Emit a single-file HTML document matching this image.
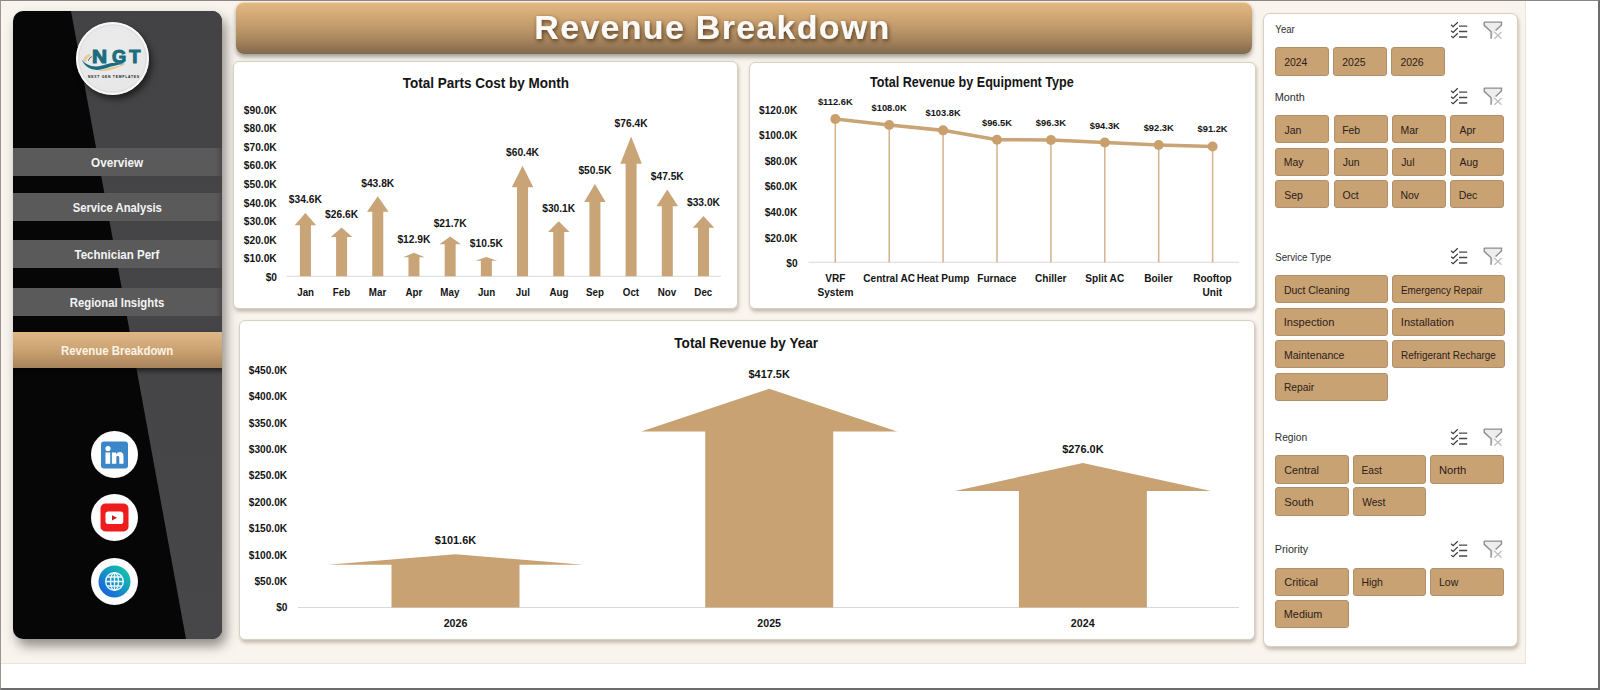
<!DOCTYPE html>
<html><head><meta charset="utf-8"><style>
*{margin:0;padding:0;box-sizing:border-box}
html,body{width:1600px;height:690px;overflow:hidden;background:#fff;font-family:"Liberation Sans", sans-serif}
#frame{position:absolute;left:0;top:0;width:1600px;height:690px;border-top:1px solid #8c8782;border-left:1px solid #9a958f;border-right:2px solid #6c6c6c;border-bottom:2px solid #6c6c6c}
#cream{position:absolute;left:1px;top:1px;width:1525px;height:663px;background:#f9f4ed;border-right:1px solid #ebe4da;border-bottom:1px solid #ebe4da}
#side{position:absolute;left:13px;top:11px;width:208.5px;height:627.5px;border-radius:10px;background:#060607;overflow:hidden;box-shadow:4px 7px 12px rgba(50,48,44,.52)}
#sidegray{position:absolute;left:0;top:0;width:100%;height:100%;background:linear-gradient(#434345,#474749);clip-path:polygon(58px 0,209px 0,209px 628px,173px 628px)}
.nav{position:absolute;left:0;width:208.5px;background:linear-gradient(90deg,#5a5a5b 97%,#4a4a4b)}
#navact{position:absolute;left:0;top:320.5px;width:208.5px;height:36.8px;background:linear-gradient(#dfb887,#cba272 50%,#a8845b);box-shadow:2px 3px 5px rgba(0,0,0,.55)}
#logo{position:absolute;left:63px;top:10.5px;width:73px;height:73px;border-radius:50%;background:radial-gradient(circle at 45% 40%,#ececec,#e7e7e7 70%,#dedede);box-shadow:3px 4px 6px rgba(0,0,0,.55)}
.soc{position:absolute;left:78px;width:47px;height:47px;border-radius:50%;background:#fdfdfd}
#header{position:absolute;left:235.8px;top:1.8px;width:1016.2px;height:52.2px;border-radius:8px;background:linear-gradient(#e2b782,#d4aa76 22%,#bf986a 50%,#a4825b 75%,#8c7052 92%,#7f6a4f);box-shadow:0 3px 4px rgba(70,75,60,.5);border-top:1px solid #efd5b2}
.panel{position:absolute;background:#fff;border:1px solid #d9d0c2;border-radius:6px;box-shadow:1px 2.5px 3.5px rgba(110,95,75,.35)}
.ic{position:absolute}
.btn{position:absolute;background:#c9a273;border:1px solid #b0906a;border-radius:3px}
svg.ov{position:absolute;left:0;top:0}
</style></head><body>
<div id="cream"></div>
<div id="side">
 <div id="sidegray"></div>
 <div id="logo">
  <svg width="73" height="73" viewBox="0 0 73 73" style="position:absolute;left:0;top:0">
   <circle cx="36.5" cy="36.5" r="35.4" fill="none" stroke="#f8f8f8" stroke-width="1.8"/><circle cx="36.5" cy="36.5" r="33.6" fill="none" stroke="#d4d4d4" stroke-width=".8" opacity=".8"/>
   <path d="M21.9 48.8 C27 48 31 46.5 35 45.5 C40 44.3 45 43.3 49.1 43 C45 44.2 40 46.3 35 47.7 C30 49 26 49.2 21.9 48.8 Z" fill="#e3c48f"/>
   <path d="M7.2 39.8 C7.2 36 9.5 33 14 31.8 L14.6 34 C11.5 35 10.1 37 10.1 39.8 Z" fill="#e6c994"/>
   <path d="M12.4 38.8 Q12.9 35.8 15.9 34.6" fill="none" stroke="#4f6d76" stroke-width="1"/>
   <path d="M5.6 37.5 C9 42 14 44.6 20.5 44.4 C27 44.2 31 41.5 36 41 C41 40.6 46 41.3 49.8 41.9 C45 42.2 40 43 35 44.6 C30 46.3 25 48.2 20.5 47.9 C13 47.6 8 43 5.6 37.5 Z" fill="#1b6b7d"/>
   <text x="16.09" y="40.7" font-size="18.5" font-weight="bold" fill="#1b6d7f" stroke="#1b6d7f" stroke-width="1.1" textLength="15.06" lengthAdjust="spacingAndGlyphs" font-family="Liberation Sans">N</text>
   <text x="35.92" y="40.7" font-size="18.5" font-weight="bold" fill="#1b6d7f" stroke="#1b6d7f" stroke-width="1.1" textLength="14.17" lengthAdjust="spacingAndGlyphs" font-family="Liberation Sans">G</text>
   <text x="53.17" y="40.7" font-size="18.5" font-weight="bold" fill="#1b6d7f" stroke="#1b6d7f" stroke-width="1.1" textLength="11.18" lengthAdjust="spacingAndGlyphs" font-family="Liberation Sans">T</text>
   <text x="12" y="55.9" font-size="3.4" font-weight="bold" fill="#1a1a1a" textLength="51" lengthAdjust="spacing" font-family="Liberation Sans">NEXT GEN TEMPLATES</text>
  </svg>
 </div>
 <div class="nav" style="top:137px;height:27.8px"></div>
 <div class="nav" style="top:182.1px;height:27.5px"></div>
 <div class="nav" style="top:229.4px;height:27.9px"></div>
 <div class="nav" style="top:277.2px;height:27.4px"></div>
 <div id="navact"></div>
 <div class="soc" style="top:420px">
  <svg width="47" height="47" viewBox="0 0 47 47"><rect x="10" y="10.5" width="27" height="27" rx="3" fill="#3b87c7"/>
   <circle cx="17" cy="17.5" r="2.6" fill="#fff"/><rect x="14.5" y="21.5" width="4.7" height="11.3" fill="#fff"/>
   <path d="M20.9 21.5 H25.1 V23.2 Q26.5 21 29.1 21.1 Q32.5 21.3 32.5 25.6 V32.8 H28.3 V26.6 Q28.3 24.7 26.7 24.7 Q25.3 24.8 25.3 26.6 V32.8 H20.9 Z" fill="#fff"/></svg>
 </div>
 <div class="soc" style="top:483px">
  <svg width="47" height="47" viewBox="0 0 47 47"><rect x="9.5" y="9.5" width="28" height="28" rx="5" fill="#ee1c1c"/>
   <rect x="14.5" y="17.4" width="17.8" height="12.6" rx="2.8" fill="#fff"/><path d="M21 21.2 L26 23.8 L21 26.4 Z" fill="#d01818"/></svg>
 </div>
 <div class="soc" style="top:547px">
  <svg width="47" height="47" viewBox="0 0 47 47"><defs><linearGradient id="gg" x1="1" y1="0" x2="0" y2="1"><stop offset="0" stop-color="#12d2a2"/><stop offset="1" stop-color="#1a52e8"/></linearGradient></defs>
   <circle cx="23.5" cy="23.5" r="16" fill="url(#gg)"/>
   <g fill="none" stroke="#eaf6ff" stroke-width="1.4"><circle cx="23.5" cy="23.5" r="8.8"/><ellipse cx="23.5" cy="23.5" rx="4" ry="8.8"/><path d="M23.5 14.7 V32.3 M14.7 23.5 H32.3 M16 19 H31 M16 28 H31"/></g></svg>
 </div>
</div>
<div id="header"></div>
<div class="panel" style="left:233.3px;top:61px;width:504.5px;height:247.6px"></div>
<div class="panel" style="left:748.5px;top:62px;width:507.2px;height:246.6px"></div>
<div class="panel" style="left:238.8px;top:320.2px;width:1015.8px;height:319.4px"></div>
<div class="panel" style="left:1263px;top:12.8px;width:254.5px;height:634.4px;border-radius:7px"></div>
<svg class="ov" width="1600" height="690" viewBox="0 0 1600 690" font-family="Liberation Sans">
<defs><filter id="ts" x="-5%" y="-30%" width="110%" height="160%"><feGaussianBlur in="SourceAlpha" stdDeviation="2.2"/><feOffset dx="1.3" dy="1.6" result="b"/><feFlood flood-color="#3a2410" flood-opacity=".8"/><feComposite in2="b" operator="in"/><feMerge><feMergeNode/><feMergeNode in="SourceGraphic"/></feMerge></filter></defs>
<text x="711.84" y="39.40" font-size="34" font-weight="bold" text-anchor="middle" fill="#fcfaf6" textLength="354.97" lengthAdjust="spacing" filter="url(#ts)">Revenue Breakdown</text>
<text x="117.10" y="167.00" font-size="12.5" font-weight="bold" text-anchor="middle" fill="#f4f4f4" textLength="52.14" lengthAdjust="spacingAndGlyphs">Overview</text>
<text x="117.27" y="212.00" font-size="12.5" font-weight="bold" text-anchor="middle" fill="#f4f4f4" textLength="89.22" lengthAdjust="spacingAndGlyphs">Service Analysis</text>
<text x="116.93" y="259.40" font-size="12.5" font-weight="bold" text-anchor="middle" fill="#f4f4f4" textLength="84.89" lengthAdjust="spacingAndGlyphs">Technician Perf</text>
<text x="117.00" y="307.30" font-size="12.5" font-weight="bold" text-anchor="middle" fill="#f4f4f4" textLength="94.48" lengthAdjust="spacingAndGlyphs">Regional Insights</text>
<text x="117.13" y="354.50" font-size="12.5" font-weight="bold" text-anchor="middle" fill="#fbf3e6" textLength="112.14" lengthAdjust="spacingAndGlyphs">Revenue Breakdown</text>
<text x="485.84" y="87.50" font-size="14" font-weight="bold" text-anchor="middle" fill="#141414" textLength="166.25" lengthAdjust="spacingAndGlyphs">Total Parts Cost by Month</text>
<text x="276.70" y="113.90" font-size="10.5" font-weight="bold" text-anchor="end" fill="#141414" textLength="32.84" lengthAdjust="spacingAndGlyphs">$90.0K</text>
<text x="276.70" y="132.42" font-size="10.5" font-weight="bold" text-anchor="end" fill="#141414" textLength="32.84" lengthAdjust="spacingAndGlyphs">$80.0K</text>
<text x="276.70" y="150.94" font-size="10.5" font-weight="bold" text-anchor="end" fill="#141414" textLength="32.84" lengthAdjust="spacingAndGlyphs">$70.0K</text>
<text x="276.70" y="169.46" font-size="10.5" font-weight="bold" text-anchor="end" fill="#141414" textLength="32.84" lengthAdjust="spacingAndGlyphs">$60.0K</text>
<text x="276.70" y="187.98" font-size="10.5" font-weight="bold" text-anchor="end" fill="#141414" textLength="32.84" lengthAdjust="spacingAndGlyphs">$50.0K</text>
<text x="276.70" y="206.50" font-size="10.5" font-weight="bold" text-anchor="end" fill="#141414" textLength="32.84" lengthAdjust="spacingAndGlyphs">$40.0K</text>
<text x="276.70" y="225.02" font-size="10.5" font-weight="bold" text-anchor="end" fill="#141414" textLength="32.84" lengthAdjust="spacingAndGlyphs">$30.0K</text>
<text x="276.70" y="243.54" font-size="10.5" font-weight="bold" text-anchor="end" fill="#141414" textLength="32.84" lengthAdjust="spacingAndGlyphs">$20.0K</text>
<text x="276.70" y="262.06" font-size="10.5" font-weight="bold" text-anchor="end" fill="#141414" textLength="32.84" lengthAdjust="spacingAndGlyphs">$10.0K</text>
<text x="277.03" y="280.58" font-size="10.5" font-weight="bold" text-anchor="end" fill="#141414" textLength="11.33" lengthAdjust="spacingAndGlyphs">$0</text>
<rect x="286.5" y="275.8" width="434.5" height="1" fill="#d9d9d9"/>
<polygon points="305.40,212.98 316.15,225.33 310.90,225.33 310.90,276.30 299.90,276.30 299.90,225.33 294.65,225.33" fill="#c9a477"/>
<text x="305.37" y="203.38" font-size="10.5" font-weight="bold" text-anchor="middle" fill="#141414" textLength="33.01" lengthAdjust="spacingAndGlyphs">$34.6K</text>
<text x="305.64" y="295.80" font-size="10.5" font-weight="bold" text-anchor="middle" fill="#141414" textLength="16.83" lengthAdjust="spacingAndGlyphs">Jan</text>
<polygon points="341.59,227.62 352.34,237.11 347.09,237.11 347.09,276.30 336.09,276.30 336.09,237.11 330.84,237.11" fill="#c9a477"/>
<text x="341.56" y="218.02" font-size="10.5" font-weight="bold" text-anchor="middle" fill="#141414" textLength="33.01" lengthAdjust="spacingAndGlyphs">$26.6K</text>
<text x="341.48" y="295.80" font-size="10.5" font-weight="bold" text-anchor="middle" fill="#141414" textLength="17.36" lengthAdjust="spacingAndGlyphs">Feb</text>
<polygon points="377.78,196.15 388.53,211.78 383.28,211.78 383.28,276.30 372.28,276.30 372.28,211.78 367.03,211.78" fill="#c9a477"/>
<text x="377.75" y="186.55" font-size="10.5" font-weight="bold" text-anchor="middle" fill="#141414" textLength="33.01" lengthAdjust="spacingAndGlyphs">$43.8K</text>
<text x="377.53" y="295.80" font-size="10.5" font-weight="bold" text-anchor="middle" fill="#141414" textLength="17.37" lengthAdjust="spacingAndGlyphs">Mar</text>
<polygon points="413.97,252.69 424.72,257.30 419.47,257.30 419.47,276.30 408.47,276.30 408.47,257.30 403.22,257.30" fill="#c9a477"/>
<text x="413.94" y="243.09" font-size="10.5" font-weight="bold" text-anchor="middle" fill="#141414" textLength="33.01" lengthAdjust="spacingAndGlyphs">$12.9K</text>
<text x="413.91" y="295.80" font-size="10.5" font-weight="bold" text-anchor="middle" fill="#141414" textLength="16.82" lengthAdjust="spacingAndGlyphs">Apr</text>
<polygon points="450.16,236.59 460.91,244.33 455.66,244.33 455.66,276.30 444.66,276.30 444.66,244.33 439.41,244.33" fill="#c9a477"/>
<text x="450.13" y="226.99" font-size="10.5" font-weight="bold" text-anchor="middle" fill="#141414" textLength="33.01" lengthAdjust="spacingAndGlyphs">$21.7K</text>
<text x="449.87" y="295.80" font-size="10.5" font-weight="bold" text-anchor="middle" fill="#141414" textLength="19.00" lengthAdjust="spacingAndGlyphs">May</text>
<polygon points="486.35,257.09 497.10,260.83 491.85,260.83 491.85,276.30 480.85,276.30 480.85,260.83 475.60,260.83" fill="#c9a477"/>
<text x="486.32" y="247.49" font-size="10.5" font-weight="bold" text-anchor="middle" fill="#141414" textLength="33.01" lengthAdjust="spacingAndGlyphs">$10.5K</text>
<text x="486.58" y="295.80" font-size="10.5" font-weight="bold" text-anchor="middle" fill="#141414" textLength="17.36" lengthAdjust="spacingAndGlyphs">Jun</text>
<polygon points="522.54,165.77 533.29,187.32 528.04,187.32 528.04,276.30 517.04,276.30 517.04,187.32 511.79,187.32" fill="#c9a477"/>
<text x="522.51" y="156.17" font-size="10.5" font-weight="bold" text-anchor="middle" fill="#141414" textLength="33.01" lengthAdjust="spacingAndGlyphs">$60.4K</text>
<text x="522.81" y="295.80" font-size="10.5" font-weight="bold" text-anchor="middle" fill="#141414" textLength="14.11" lengthAdjust="spacingAndGlyphs">Jul</text>
<polygon points="558.73,221.22 569.48,231.96 564.23,231.96 564.23,276.30 553.23,276.30 553.23,231.96 547.98,231.96" fill="#c9a477"/>
<text x="558.70" y="211.62" font-size="10.5" font-weight="bold" text-anchor="middle" fill="#141414" textLength="33.01" lengthAdjust="spacingAndGlyphs">$30.1K</text>
<text x="558.92" y="295.80" font-size="10.5" font-weight="bold" text-anchor="middle" fill="#141414" textLength="18.98" lengthAdjust="spacingAndGlyphs">Aug</text>
<polygon points="594.92,183.88 605.67,201.91 600.42,201.91 600.42,276.30 589.42,276.30 589.42,201.91 584.17,201.91" fill="#c9a477"/>
<text x="594.89" y="174.28" font-size="10.5" font-weight="bold" text-anchor="middle" fill="#141414" textLength="33.01" lengthAdjust="spacingAndGlyphs">$50.5K</text>
<text x="594.96" y="295.80" font-size="10.5" font-weight="bold" text-anchor="middle" fill="#141414" textLength="17.91" lengthAdjust="spacingAndGlyphs">Sep</text>
<polygon points="631.11,136.49 641.86,163.75 636.61,163.75 636.61,276.30 625.61,276.30 625.61,163.75 620.36,163.75" fill="#c9a477"/>
<text x="631.08" y="126.89" font-size="10.5" font-weight="bold" text-anchor="middle" fill="#141414" textLength="33.01" lengthAdjust="spacingAndGlyphs">$76.4K</text>
<text x="630.97" y="295.80" font-size="10.5" font-weight="bold" text-anchor="middle" fill="#141414" textLength="16.28" lengthAdjust="spacingAndGlyphs">Oct</text>
<polygon points="667.30,189.38 678.05,206.33 672.80,206.33 672.80,276.30 661.80,276.30 661.80,206.33 656.55,206.33" fill="#c9a477"/>
<text x="667.27" y="179.78" font-size="10.5" font-weight="bold" text-anchor="middle" fill="#141414" textLength="33.01" lengthAdjust="spacingAndGlyphs">$47.5K</text>
<text x="667.00" y="295.80" font-size="10.5" font-weight="bold" text-anchor="middle" fill="#141414" textLength="18.45" lengthAdjust="spacingAndGlyphs">Nov</text>
<polygon points="703.49,215.91 714.24,227.69 708.99,227.69 708.99,276.30 697.99,276.30 697.99,227.69 692.74,227.69" fill="#c9a477"/>
<text x="703.46" y="206.31" font-size="10.5" font-weight="bold" text-anchor="middle" fill="#141414" textLength="33.01" lengthAdjust="spacingAndGlyphs">$33.0K</text>
<text x="703.32" y="295.80" font-size="10.5" font-weight="bold" text-anchor="middle" fill="#141414" textLength="17.91" lengthAdjust="spacingAndGlyphs">Dec</text>
<text x="971.88" y="87.00" font-size="14" font-weight="bold" text-anchor="middle" fill="#141414" textLength="203.60" lengthAdjust="spacingAndGlyphs">Total Revenue by Equipment Type</text>
<text x="797.31" y="113.60" font-size="10.5" font-weight="bold" text-anchor="end" fill="#141414" textLength="38.31" lengthAdjust="spacingAndGlyphs">$120.0K</text>
<text x="797.31" y="139.20" font-size="10.5" font-weight="bold" text-anchor="end" fill="#141414" textLength="38.31" lengthAdjust="spacingAndGlyphs">$100.0K</text>
<text x="797.30" y="164.80" font-size="10.5" font-weight="bold" text-anchor="end" fill="#141414" textLength="32.67" lengthAdjust="spacingAndGlyphs">$80.0K</text>
<text x="797.30" y="190.40" font-size="10.5" font-weight="bold" text-anchor="end" fill="#141414" textLength="32.67" lengthAdjust="spacingAndGlyphs">$60.0K</text>
<text x="797.30" y="216.00" font-size="10.5" font-weight="bold" text-anchor="end" fill="#141414" textLength="32.67" lengthAdjust="spacingAndGlyphs">$40.0K</text>
<text x="797.30" y="241.60" font-size="10.5" font-weight="bold" text-anchor="end" fill="#141414" textLength="32.67" lengthAdjust="spacingAndGlyphs">$20.0K</text>
<text x="797.63" y="267.20" font-size="10.5" font-weight="bold" text-anchor="end" fill="#141414" textLength="11.27" lengthAdjust="spacingAndGlyphs">$0</text>
<rect x="808.5" y="261.8" width="430.5" height="1" fill="#d9d9d9"/>
<rect x="834.55" y="119.07" width="1.5" height="143.23" fill="#d2b38c"/>
<text x="835.28" y="105.07" font-size="9.5" font-weight="bold" text-anchor="middle" fill="#141414" textLength="34.69" lengthAdjust="spacingAndGlyphs">$112.6K</text>
<text x="835.45" y="281.60" font-size="10.5" font-weight="bold" text-anchor="middle" fill="#141414" textLength="20.16" lengthAdjust="spacingAndGlyphs">VRF</text>
<text x="835.44" y="295.70" font-size="10.5" font-weight="bold" text-anchor="middle" fill="#141414" textLength="35.86" lengthAdjust="spacingAndGlyphs">System</text>
<rect x="888.45" y="124.96" width="1.5" height="137.34" fill="#d2b38c"/>
<text x="889.18" y="110.96" font-size="9.5" font-weight="bold" text-anchor="middle" fill="#141414" textLength="35.20" lengthAdjust="spacingAndGlyphs">$108.0K</text>
<text x="889.13" y="281.60" font-size="10.5" font-weight="bold" text-anchor="middle" fill="#141414" textLength="51.72" lengthAdjust="spacingAndGlyphs">Central AC</text>
<rect x="942.35" y="130.34" width="1.5" height="131.96" fill="#d2b38c"/>
<text x="943.08" y="116.34" font-size="9.5" font-weight="bold" text-anchor="middle" fill="#141414" textLength="35.20" lengthAdjust="spacingAndGlyphs">$103.8K</text>
<text x="942.99" y="281.60" font-size="10.5" font-weight="bold" text-anchor="middle" fill="#141414" textLength="52.65" lengthAdjust="spacingAndGlyphs">Heat Pump</text>
<rect x="996.25" y="139.68" width="1.5" height="122.62" fill="#d2b38c"/>
<text x="996.98" y="125.68" font-size="9.5" font-weight="bold" text-anchor="middle" fill="#141414" textLength="30.02" lengthAdjust="spacingAndGlyphs">$96.5K</text>
<text x="996.85" y="281.60" font-size="10.5" font-weight="bold" text-anchor="middle" fill="#141414" textLength="39.21" lengthAdjust="spacingAndGlyphs">Furnace</text>
<rect x="1050.15" y="139.94" width="1.5" height="122.36" fill="#d2b38c"/>
<text x="1050.88" y="125.94" font-size="9.5" font-weight="bold" text-anchor="middle" fill="#141414" textLength="30.02" lengthAdjust="spacingAndGlyphs">$96.3K</text>
<text x="1050.76" y="281.60" font-size="10.5" font-weight="bold" text-anchor="middle" fill="#141414" textLength="31.37" lengthAdjust="spacingAndGlyphs">Chiller</text>
<rect x="1104.05" y="142.50" width="1.5" height="119.80" fill="#d2b38c"/>
<text x="1104.78" y="128.50" font-size="9.5" font-weight="bold" text-anchor="middle" fill="#141414" textLength="30.02" lengthAdjust="spacingAndGlyphs">$94.3K</text>
<text x="1104.78" y="281.60" font-size="10.5" font-weight="bold" text-anchor="middle" fill="#141414" textLength="38.82" lengthAdjust="spacingAndGlyphs">Split AC</text>
<rect x="1157.95" y="145.06" width="1.5" height="117.24" fill="#d2b38c"/>
<text x="1158.68" y="131.06" font-size="9.5" font-weight="bold" text-anchor="middle" fill="#141414" textLength="30.02" lengthAdjust="spacingAndGlyphs">$92.3K</text>
<text x="1158.44" y="281.60" font-size="10.5" font-weight="bold" text-anchor="middle" fill="#141414" textLength="28.57" lengthAdjust="spacingAndGlyphs">Boiler</text>
<rect x="1211.85" y="146.46" width="1.5" height="115.84" fill="#d2b38c"/>
<text x="1212.58" y="132.46" font-size="9.5" font-weight="bold" text-anchor="middle" fill="#141414" textLength="30.02" lengthAdjust="spacingAndGlyphs">$91.2K</text>
<text x="1212.48" y="281.60" font-size="10.5" font-weight="bold" text-anchor="middle" fill="#141414" textLength="38.62" lengthAdjust="spacingAndGlyphs">Rooftop</text>
<text x="1212.37" y="295.70" font-size="10.5" font-weight="bold" text-anchor="middle" fill="#141414" textLength="19.59" lengthAdjust="spacingAndGlyphs">Unit</text>
<polyline points="835.30,119.07 889.20,124.96 943.10,130.34 997.00,139.68 1050.90,139.94 1104.80,142.50 1158.70,145.06 1212.60,146.46" fill="none" stroke="#c9a477" stroke-width="3.6" stroke-linejoin="round"/>
<circle cx="835.30" cy="119.07" r="5" fill="#c99f6b"/>
<circle cx="889.20" cy="124.96" r="5" fill="#c99f6b"/>
<circle cx="943.10" cy="130.34" r="5" fill="#c99f6b"/>
<circle cx="997.00" cy="139.68" r="5" fill="#c99f6b"/>
<circle cx="1050.90" cy="139.94" r="5" fill="#c99f6b"/>
<circle cx="1104.80" cy="142.50" r="5" fill="#c99f6b"/>
<circle cx="1158.70" cy="145.06" r="5" fill="#c99f6b"/>
<circle cx="1212.60" cy="146.46" r="5" fill="#c99f6b"/>
<text x="746.23" y="347.50" font-size="14" font-weight="bold" text-anchor="middle" fill="#141414" textLength="143.83" lengthAdjust="spacingAndGlyphs">Total Revenue by Year</text>
<text x="287.11" y="373.80" font-size="10.5" font-weight="bold" text-anchor="end" fill="#141414" textLength="38.31" lengthAdjust="spacingAndGlyphs">$450.0K</text>
<text x="287.11" y="400.20" font-size="10.5" font-weight="bold" text-anchor="end" fill="#141414" textLength="38.31" lengthAdjust="spacingAndGlyphs">$400.0K</text>
<text x="287.11" y="426.60" font-size="10.5" font-weight="bold" text-anchor="end" fill="#141414" textLength="38.31" lengthAdjust="spacingAndGlyphs">$350.0K</text>
<text x="287.11" y="453.00" font-size="10.5" font-weight="bold" text-anchor="end" fill="#141414" textLength="38.31" lengthAdjust="spacingAndGlyphs">$300.0K</text>
<text x="287.11" y="479.40" font-size="10.5" font-weight="bold" text-anchor="end" fill="#141414" textLength="38.31" lengthAdjust="spacingAndGlyphs">$250.0K</text>
<text x="287.11" y="505.80" font-size="10.5" font-weight="bold" text-anchor="end" fill="#141414" textLength="38.31" lengthAdjust="spacingAndGlyphs">$200.0K</text>
<text x="287.11" y="532.20" font-size="10.5" font-weight="bold" text-anchor="end" fill="#141414" textLength="38.31" lengthAdjust="spacingAndGlyphs">$150.0K</text>
<text x="287.11" y="558.60" font-size="10.5" font-weight="bold" text-anchor="end" fill="#141414" textLength="38.31" lengthAdjust="spacingAndGlyphs">$100.0K</text>
<text x="287.10" y="585.00" font-size="10.5" font-weight="bold" text-anchor="end" fill="#141414" textLength="32.67" lengthAdjust="spacingAndGlyphs">$50.0K</text>
<text x="287.43" y="611.40" font-size="10.5" font-weight="bold" text-anchor="end" fill="#141414" textLength="11.27" lengthAdjust="spacingAndGlyphs">$0</text>
<rect x="298" y="607" width="941" height="1" fill="#d9d9d9"/>
<polygon points="455.50,554.26 583.50,564.64 519.50,564.64 519.50,607.50 391.50,607.50 391.50,564.64 327.50,564.64" fill="#c9a273"/>
<text x="455.48" y="543.96" font-size="11.5" font-weight="bold" text-anchor="middle" fill="#141414" textLength="41.31" lengthAdjust="spacingAndGlyphs">$101.6K</text>
<text x="455.50" y="626.50" font-size="11" font-weight="bold" text-anchor="middle" fill="#141414" textLength="23.74" lengthAdjust="spacingAndGlyphs">2026</text>
<polygon points="769.20,388.73 897.20,431.39 833.20,431.39 833.20,607.50 705.20,607.50 705.20,431.39 641.20,431.39" fill="#c9a273"/>
<text x="769.18" y="378.43" font-size="11.5" font-weight="bold" text-anchor="middle" fill="#141414" textLength="41.31" lengthAdjust="spacingAndGlyphs">$417.5K</text>
<text x="769.14" y="626.50" font-size="11" font-weight="bold" text-anchor="middle" fill="#141414" textLength="23.74" lengthAdjust="spacingAndGlyphs">2025</text>
<polygon points="1082.90,462.88 1210.90,491.08 1146.90,491.08 1146.90,607.50 1018.90,607.50 1018.90,491.08 954.90,491.08" fill="#c9a273"/>
<text x="1082.88" y="452.58" font-size="11.5" font-weight="bold" text-anchor="middle" fill="#141414" textLength="41.31" lengthAdjust="spacingAndGlyphs">$276.0K</text>
<text x="1082.74" y="626.50" font-size="11" font-weight="bold" text-anchor="middle" fill="#141414" textLength="23.74" lengthAdjust="spacingAndGlyphs">2024</text>
</svg>
<svg class="ic" style="left:1450px;top:21.0px" width="19" height="19" viewBox="0 0 19 19"><path d="M1.1 3.7 L3.1 5.65 L7.8 1.2 M1.1 9.8 L3.1 11.5 L7.8 6.8 M1.1 15.1 L3.1 16.7 L7.8 12.3" fill="none" stroke="#3a3a3a" stroke-width="1.2"/><path d="M9 5.1 H17.2 M9 10.5 H17.2 M9 16 H17.2" stroke="#484848" stroke-width="1.45"/></svg>
<svg class="ic" style="left:1483px;top:21.0px" width="20" height="19" viewBox="0 0 20 19"><path d="M1.2 1.1 H18.5 V3.9 L12.6 9.4 L8.1 17.8 V10.85 L1.2 4.35 Z" fill="#ededed"/><path d="M1.2 1.1 H18.5 V3.9 L12.6 9.4 M8.1 17.8 V10.85 L1.2 4.35 V1.1" fill="none" stroke="#8d8d8d" stroke-width="1.4"/><path d="M11.4 11 L18.5 17.8 M18.5 11 L11.4 17.8" stroke="#bdbdbd" stroke-width="1.2"/></svg>
<div class="btn" style="left:1275.20px;top:47.20px;width:54.00px;height:28.50px"></div>
<div class="btn" style="left:1333.30px;top:47.20px;width:54.00px;height:28.50px"></div>
<div class="btn" style="left:1391.40px;top:47.20px;width:54.00px;height:28.50px"></div>
<svg class="ic" style="left:1450px;top:87.2px" width="19" height="19" viewBox="0 0 19 19"><path d="M1.1 3.7 L3.1 5.65 L7.8 1.2 M1.1 9.8 L3.1 11.5 L7.8 6.8 M1.1 15.1 L3.1 16.7 L7.8 12.3" fill="none" stroke="#3a3a3a" stroke-width="1.2"/><path d="M9 5.1 H17.2 M9 10.5 H17.2 M9 16 H17.2" stroke="#484848" stroke-width="1.45"/></svg>
<svg class="ic" style="left:1483px;top:87.2px" width="20" height="19" viewBox="0 0 20 19"><path d="M1.2 1.1 H18.5 V3.9 L12.6 9.4 L8.1 17.8 V10.85 L1.2 4.35 Z" fill="#ededed"/><path d="M1.2 1.1 H18.5 V3.9 L12.6 9.4 M8.1 17.8 V10.85 L1.2 4.35 V1.1" fill="none" stroke="#8d8d8d" stroke-width="1.4"/><path d="M11.4 11 L18.5 17.8 M18.5 11 L11.4 17.8" stroke="#bdbdbd" stroke-width="1.2"/></svg>
<div class="btn" style="left:1275.20px;top:115.20px;width:54.20px;height:28.20px"></div>
<div class="btn" style="left:1333.50px;top:115.20px;width:54.20px;height:28.20px"></div>
<div class="btn" style="left:1391.80px;top:115.20px;width:54.20px;height:28.20px"></div>
<div class="btn" style="left:1450.10px;top:115.20px;width:54.20px;height:28.20px"></div>
<div class="btn" style="left:1275.20px;top:147.70px;width:54.20px;height:28.20px"></div>
<div class="btn" style="left:1333.50px;top:147.70px;width:54.20px;height:28.20px"></div>
<div class="btn" style="left:1391.80px;top:147.70px;width:54.20px;height:28.20px"></div>
<div class="btn" style="left:1450.10px;top:147.70px;width:54.20px;height:28.20px"></div>
<div class="btn" style="left:1275.20px;top:180.20px;width:54.20px;height:28.20px"></div>
<div class="btn" style="left:1333.50px;top:180.20px;width:54.20px;height:28.20px"></div>
<div class="btn" style="left:1391.80px;top:180.20px;width:54.20px;height:28.20px"></div>
<div class="btn" style="left:1450.10px;top:180.20px;width:54.20px;height:28.20px"></div>
<svg class="ic" style="left:1450px;top:247.2px" width="19" height="19" viewBox="0 0 19 19"><path d="M1.1 3.7 L3.1 5.65 L7.8 1.2 M1.1 9.8 L3.1 11.5 L7.8 6.8 M1.1 15.1 L3.1 16.7 L7.8 12.3" fill="none" stroke="#3a3a3a" stroke-width="1.2"/><path d="M9 5.1 H17.2 M9 10.5 H17.2 M9 16 H17.2" stroke="#484848" stroke-width="1.45"/></svg>
<svg class="ic" style="left:1483px;top:247.2px" width="20" height="19" viewBox="0 0 20 19"><path d="M1.2 1.1 H18.5 V3.9 L12.6 9.4 L8.1 17.8 V10.85 L1.2 4.35 Z" fill="#ededed"/><path d="M1.2 1.1 H18.5 V3.9 L12.6 9.4 M8.1 17.8 V10.85 L1.2 4.35 V1.1" fill="none" stroke="#8d8d8d" stroke-width="1.4"/><path d="M11.4 11 L18.5 17.8 M18.5 11 L11.4 17.8" stroke="#bdbdbd" stroke-width="1.2"/></svg>
<div class="btn" style="left:1275.30px;top:275.20px;width:112.80px;height:28.20px"></div>
<div class="btn" style="left:1392.30px;top:275.20px;width:112.80px;height:28.20px"></div>
<div class="btn" style="left:1275.30px;top:307.70px;width:112.80px;height:28.20px"></div>
<div class="btn" style="left:1392.30px;top:307.70px;width:112.80px;height:28.20px"></div>
<div class="btn" style="left:1275.30px;top:340.20px;width:112.80px;height:28.20px"></div>
<div class="btn" style="left:1392.30px;top:340.20px;width:112.80px;height:28.20px"></div>
<div class="btn" style="left:1275.30px;top:372.70px;width:112.80px;height:28.20px"></div>
<svg class="ic" style="left:1450px;top:427.6px" width="19" height="19" viewBox="0 0 19 19"><path d="M1.1 3.7 L3.1 5.65 L7.8 1.2 M1.1 9.8 L3.1 11.5 L7.8 6.8 M1.1 15.1 L3.1 16.7 L7.8 12.3" fill="none" stroke="#3a3a3a" stroke-width="1.2"/><path d="M9 5.1 H17.2 M9 10.5 H17.2 M9 16 H17.2" stroke="#484848" stroke-width="1.45"/></svg>
<svg class="ic" style="left:1483px;top:427.6px" width="20" height="19" viewBox="0 0 20 19"><path d="M1.2 1.1 H18.5 V3.9 L12.6 9.4 L8.1 17.8 V10.85 L1.2 4.35 Z" fill="#ededed"/><path d="M1.2 1.1 H18.5 V3.9 L12.6 9.4 M8.1 17.8 V10.85 L1.2 4.35 V1.1" fill="none" stroke="#8d8d8d" stroke-width="1.4"/><path d="M11.4 11 L18.5 17.8 M18.5 11 L11.4 17.8" stroke="#bdbdbd" stroke-width="1.2"/></svg>
<div class="btn" style="left:1275.20px;top:455.30px;width:73.70px;height:28.30px"></div>
<div class="btn" style="left:1352.75px;top:455.30px;width:73.70px;height:28.30px"></div>
<div class="btn" style="left:1430.30px;top:455.30px;width:73.70px;height:28.30px"></div>
<div class="btn" style="left:1275.20px;top:487.30px;width:73.70px;height:28.30px"></div>
<div class="btn" style="left:1352.75px;top:487.30px;width:73.70px;height:28.30px"></div>
<svg class="ic" style="left:1450px;top:539.7px" width="19" height="19" viewBox="0 0 19 19"><path d="M1.1 3.7 L3.1 5.65 L7.8 1.2 M1.1 9.8 L3.1 11.5 L7.8 6.8 M1.1 15.1 L3.1 16.7 L7.8 12.3" fill="none" stroke="#3a3a3a" stroke-width="1.2"/><path d="M9 5.1 H17.2 M9 10.5 H17.2 M9 16 H17.2" stroke="#484848" stroke-width="1.45"/></svg>
<svg class="ic" style="left:1483px;top:539.7px" width="20" height="19" viewBox="0 0 20 19"><path d="M1.2 1.1 H18.5 V3.9 L12.6 9.4 L8.1 17.8 V10.85 L1.2 4.35 Z" fill="#ededed"/><path d="M1.2 1.1 H18.5 V3.9 L12.6 9.4 M8.1 17.8 V10.85 L1.2 4.35 V1.1" fill="none" stroke="#8d8d8d" stroke-width="1.4"/><path d="M11.4 11 L18.5 17.8 M18.5 11 L11.4 17.8" stroke="#bdbdbd" stroke-width="1.2"/></svg>
<div class="btn" style="left:1275.20px;top:567.60px;width:73.70px;height:28.30px"></div>
<div class="btn" style="left:1352.75px;top:567.60px;width:73.70px;height:28.30px"></div>
<div class="btn" style="left:1430.30px;top:567.60px;width:73.70px;height:28.30px"></div>
<div class="btn" style="left:1275.20px;top:600.00px;width:73.70px;height:28.30px"></div>
<svg class="ov" width="1600" height="690" viewBox="0 0 1600 690" font-family="Liberation Sans">
<text x="1275.36" y="32.90" font-size="10.5" font-weight="normal" text-anchor="start" fill="#2e2e2e" textLength="19.39" lengthAdjust="spacingAndGlyphs">Year</text>
<text x="1284.18" y="65.60" font-size="11" font-weight="normal" text-anchor="start" fill="#2a2018" textLength="23.25" lengthAdjust="spacingAndGlyphs">2024</text>
<text x="1342.28" y="65.60" font-size="11" font-weight="normal" text-anchor="start" fill="#2a2018" textLength="23.25" lengthAdjust="spacingAndGlyphs">2025</text>
<text x="1400.38" y="65.60" font-size="11" font-weight="normal" text-anchor="start" fill="#2a2018" textLength="23.25" lengthAdjust="spacingAndGlyphs">2026</text>
<text x="1274.73" y="100.80" font-size="10.5" font-weight="normal" text-anchor="start" fill="#2e2e2e" textLength="30.17" lengthAdjust="spacingAndGlyphs">Month</text>
<text x="1284.54" y="133.60" font-size="11" font-weight="normal" text-anchor="start" fill="#2a2018" textLength="16.85" lengthAdjust="spacingAndGlyphs">Jan</text>
<text x="1342.16" y="133.60" font-size="11" font-weight="normal" text-anchor="start" fill="#2a2018" textLength="18.01" lengthAdjust="spacingAndGlyphs">Feb</text>
<text x="1400.46" y="133.60" font-size="11" font-weight="normal" text-anchor="start" fill="#2a2018" textLength="18.00" lengthAdjust="spacingAndGlyphs">Mar</text>
<text x="1459.60" y="133.60" font-size="11" font-weight="normal" text-anchor="start" fill="#2a2018" textLength="16.26" lengthAdjust="spacingAndGlyphs">Apr</text>
<text x="1283.86" y="166.10" font-size="11" font-weight="normal" text-anchor="start" fill="#2a2018" textLength="19.74" lengthAdjust="spacingAndGlyphs">May</text>
<text x="1342.84" y="166.10" font-size="11" font-weight="normal" text-anchor="start" fill="#2a2018" textLength="16.85" lengthAdjust="spacingAndGlyphs">Jun</text>
<text x="1401.14" y="166.10" font-size="11" font-weight="normal" text-anchor="start" fill="#2a2018" textLength="13.36" lengthAdjust="spacingAndGlyphs">Jul</text>
<text x="1459.60" y="166.10" font-size="11" font-weight="normal" text-anchor="start" fill="#2a2018" textLength="18.59" lengthAdjust="spacingAndGlyphs">Aug</text>
<text x="1284.23" y="198.60" font-size="11" font-weight="normal" text-anchor="start" fill="#2a2018" textLength="18.59" lengthAdjust="spacingAndGlyphs">Sep</text>
<text x="1342.53" y="198.60" font-size="11" font-weight="normal" text-anchor="start" fill="#2a2018" textLength="16.26" lengthAdjust="spacingAndGlyphs">Oct</text>
<text x="1400.46" y="198.60" font-size="11" font-weight="normal" text-anchor="start" fill="#2a2018" textLength="18.58" lengthAdjust="spacingAndGlyphs">Nov</text>
<text x="1458.76" y="198.60" font-size="11" font-weight="normal" text-anchor="start" fill="#2a2018" textLength="18.58" lengthAdjust="spacingAndGlyphs">Dec</text>
<text x="1275.16" y="261.00" font-size="10.5" font-weight="normal" text-anchor="start" fill="#2e2e2e" textLength="55.90" lengthAdjust="spacingAndGlyphs">Service Type</text>
<text x="1283.97" y="293.60" font-size="11" font-weight="normal" text-anchor="start" fill="#2a2018" textLength="65.53" lengthAdjust="spacingAndGlyphs">Duct Cleaning</text>
<text x="1401.01" y="293.60" font-size="11" font-weight="normal" text-anchor="start" fill="#2a2018" textLength="81.55" lengthAdjust="spacingAndGlyphs">Emergency Repair</text>
<text x="1283.80" y="326.10" font-size="11" font-weight="normal" text-anchor="start" fill="#2a2018" textLength="50.50" lengthAdjust="spacingAndGlyphs">Inspection</text>
<text x="1400.80" y="326.10" font-size="11" font-weight="normal" text-anchor="start" fill="#2a2018" textLength="53.03" lengthAdjust="spacingAndGlyphs">Installation</text>
<text x="1283.95" y="358.60" font-size="11" font-weight="normal" text-anchor="start" fill="#2a2018" textLength="60.53" lengthAdjust="spacingAndGlyphs">Maintenance</text>
<text x="1401.01" y="358.60" font-size="11" font-weight="normal" text-anchor="start" fill="#2a2018" textLength="94.85" lengthAdjust="spacingAndGlyphs">Refrigerant Recharge</text>
<text x="1283.98" y="391.10" font-size="11" font-weight="normal" text-anchor="start" fill="#2a2018" textLength="30.08" lengthAdjust="spacingAndGlyphs">Repair</text>
<text x="1274.78" y="440.80" font-size="10.5" font-weight="normal" text-anchor="start" fill="#2e2e2e" textLength="32.48" lengthAdjust="spacingAndGlyphs">Region</text>
<text x="1284.16" y="473.70" font-size="11" font-weight="normal" text-anchor="start" fill="#2a2018" textLength="34.68" lengthAdjust="spacingAndGlyphs">Central</text>
<text x="1361.44" y="473.70" font-size="11" font-weight="normal" text-anchor="start" fill="#2a2018" textLength="20.38" lengthAdjust="spacingAndGlyphs">East</text>
<text x="1438.91" y="473.70" font-size="11" font-weight="normal" text-anchor="start" fill="#2a2018" textLength="27.32" lengthAdjust="spacingAndGlyphs">North</text>
<text x="1284.20" y="505.70" font-size="11" font-weight="normal" text-anchor="start" fill="#2a2018" textLength="29.27" lengthAdjust="spacingAndGlyphs">South</text>
<text x="1362.20" y="505.70" font-size="11" font-weight="normal" text-anchor="start" fill="#2a2018" textLength="23.15" lengthAdjust="spacingAndGlyphs">West</text>
<text x="1274.74" y="553.00" font-size="10.5" font-weight="normal" text-anchor="start" fill="#2e2e2e" textLength="33.48" lengthAdjust="spacingAndGlyphs">Priority</text>
<text x="1284.15" y="586.00" font-size="11" font-weight="normal" text-anchor="start" fill="#2a2018" textLength="33.88" lengthAdjust="spacingAndGlyphs">Critical</text>
<text x="1361.41" y="586.00" font-size="11" font-weight="normal" text-anchor="start" fill="#2a2018" textLength="21.54" lengthAdjust="spacingAndGlyphs">High</text>
<text x="1438.96" y="586.00" font-size="11" font-weight="normal" text-anchor="start" fill="#2a2018" textLength="19.34" lengthAdjust="spacingAndGlyphs">Low</text>
<text x="1283.83" y="618.40" font-size="11" font-weight="normal" text-anchor="start" fill="#2a2018" textLength="38.54" lengthAdjust="spacingAndGlyphs">Medium</text>
</svg>
<div id="frame"></div>
</body></html>
